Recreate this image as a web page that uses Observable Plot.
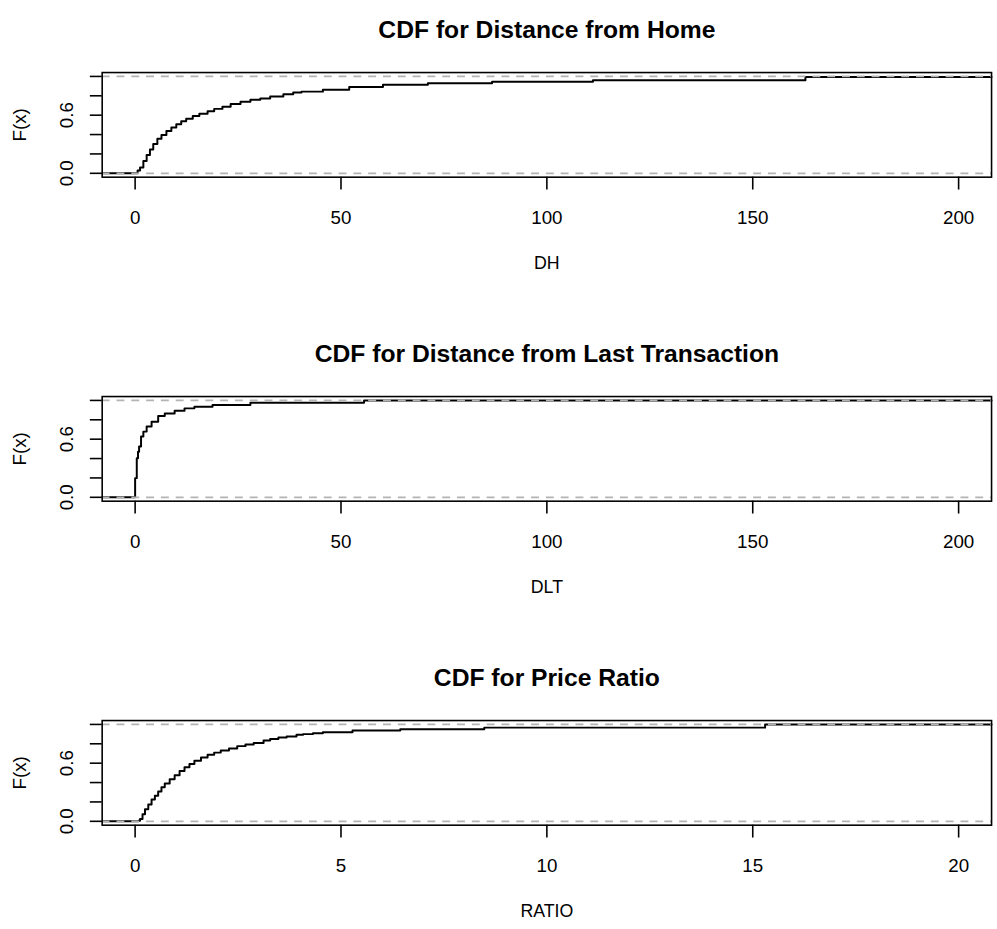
<!DOCTYPE html>
<html>
<head>
<meta charset="utf-8">
<script src="https://cdn.jsdelivr.net/npm/d3@7"></script>
<script src="https://cdn.jsdelivr.net/npm/@observablehq/plot@0.6"></script>
<style>
  html, body { margin: 0; padding: 0; background: white; }
  #wrap { width: 997px; height: 929px; overflow: hidden; position: relative; }
  #wrap svg { display: block; }
</style>
</head>
<body>
<div id="wrap"></div>
<script>
// ---- Data (ECDF knots: x where F jumps, F after jump) ----
const titles = ["CDF for Distance from Home", "CDF for Distance from Last Transaction", "CDF for Price Ratio"];
const xLabels = ["DH", "DLT", "RATIO"];
const yLabel = "F(x)";

const dhX = [-8, 0.6, 1.2, 2.0, 2.8, 3.6, 4.4, 5.4, 6.4, 7.6, 8.8, 10.0, 11.2, 12.4, 14.0, 15.6, 17.6, 19.2, 21.2, 23.2, 25.6, 28.0, 30.4, 32.8, 36.0, 38.4, 40.4, 45.6, 52, 60.2, 71.1, 86.7, 111.2, 162.8, 208];
const dhF = [0, 0.03, 0.06, 0.128, 0.188, 0.245, 0.302, 0.356, 0.396, 0.436, 0.473, 0.507, 0.537, 0.564, 0.591, 0.614, 0.641, 0.665, 0.688, 0.715, 0.738, 0.759, 0.772, 0.792, 0.816, 0.833, 0.843, 0.862, 0.891, 0.914, 0.929, 0.944, 0.96, 0.993, 0.993];

const dltX = [-8, 0, 0.4, 0.7, 0.96, 1.44, 2.0, 2.8, 4.0, 5.6, 7.2, 9.6, 12.0, 14.4, 18.8, 28.0, 55.6, 208];
const dltF = [0, 0.198, 0.404, 0.47, 0.524, 0.627, 0.678, 0.73, 0.781, 0.839, 0.866, 0.894, 0.918, 0.935, 0.952, 0.976, 1.0, 1.0];

const ratioX = [-0.8, 0.08, 0.12, 0.18, 0.24, 0.32, 0.4, 0.48, 0.56, 0.64, 0.72, 0.84, 0.96, 1.08, 1.2, 1.32, 1.44, 1.6, 1.76, 1.92, 2.08, 2.28, 2.48, 2.68, 2.88, 3.12, 3.28, 3.48, 3.68, 3.92, 4.08, 4.32, 4.56, 5.28, 6.44, 8.48, 15.3, 20.8];
const ratioF = [0, 0.005, 0.024, 0.074, 0.124, 0.174, 0.224, 0.264, 0.308, 0.351, 0.391, 0.435, 0.475, 0.519, 0.559, 0.592, 0.626, 0.659, 0.686, 0.709, 0.732, 0.752, 0.776, 0.793, 0.809, 0.833, 0.85, 0.866, 0.876, 0.893, 0.9, 0.91, 0.92, 0.937, 0.95, 0.967, 1.0, 1.0];

const distTicks = [0, 50, 100, 150, 200];
const ratioTicks = [0, 5, 10, 15, 20];
const distDomain = [-8, 208];
const ratioDomain = [-0.8, 20.8];
const yTicks = [0, 0.2, 0.4, 0.6, 0.8, 1.0];
const yTickLabels = [0.0, 0.6];
const refLines = [0, 1];

// ---- Drawing ----
const FONT = "'Liberation Sans', Arial, Helvetica, sans-serif";

function panel(title, xlabel, xs, fs, xTicks, xDomain, height, marginBottom) {
  const data = xs.map((x, i) => ({x, F: fs[i]}));
  return Plot.plot({
    width: 1010,
    height,
    marginLeft: 103,
    marginRight: 6,
    marginTop: 73,
    marginBottom,
    style: {fontFamily: FONT, fontSize: "18px", background: "white", color: "black", overflow: "visible"},
    x: {domain: xDomain, axis: null},
    y: {domain: [-0.04, 1.04], axis: null},
    marks: [
      Plot.line(data, {x: "x", y: "F", curve: "step-after", stroke: "black", strokeWidth: 2}),
      Plot.ruleY(refLines, {stroke: "#b3b3b3", strokeDasharray: "8,7", strokeWidth: 1.8}),
      Plot.frame({stroke: "black", strokeWidth: 1.6}),
      Plot.axisX({ticks: xTicks, tickSize: 13, tickPadding: 21, fontSize: 19, label: null, strokeWidth: 1.6}),
      Plot.axisY({ticks: yTicks, tickSize: 12, tickFormat: () => "", label: null, strokeWidth: 1.6}),
      Plot.text(yTickLabels, {y: d => d, text: d => d.toFixed(1), frameAnchor: "left", dx: -36, rotate: -90, fontSize: 19, lineAnchor: "middle", textAnchor: "middle"}),
      Plot.text([yLabel], {frameAnchor: "left", dx: -83, rotate: -90, fontSize: 19, lineAnchor: "middle", textAnchor: "middle", letterSpacing: "1.5px"}),
      Plot.text([xlabel], {frameAnchor: "bottom", dy: 87, fontSize: 18, lineAnchor: "middle", textAnchor: "middle"}),
      Plot.text([title], {frameAnchor: "top", dy: -43, fontSize: 25, fontWeight: "bold", lineAnchor: "middle", textAnchor: "middle"})
    ]
  });
}

const wrap = document.getElementById("wrap");
wrap.append(panel(titles[0], xLabels[0], dhX, dhF, distTicks, distDomain, 328, 149));
wrap.append(panel(titles[1], xLabels[1], dltX, dltF, distTicks, distDomain, 328, 149));
wrap.append(panel(titles[2], xLabels[2], ratioX, ratioF, ratioTicks, ratioDomain, 273, 94));
</script>
</body>
</html>
